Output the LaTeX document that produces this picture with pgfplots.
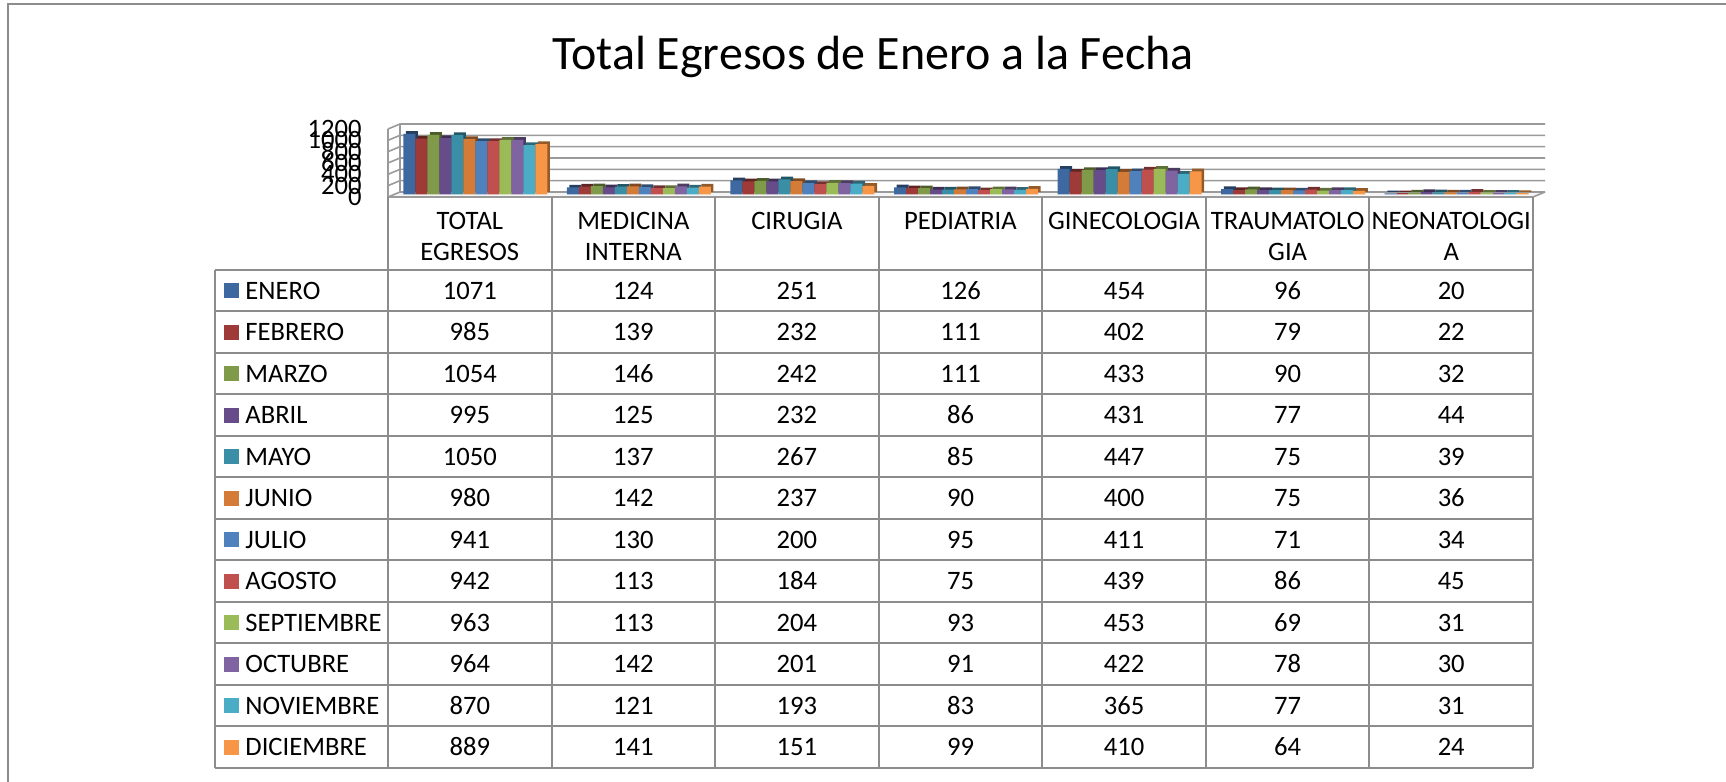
\documentclass[border=0pt]{standalone}
\usepackage{fontspec}
\setmainfont{Carlito}
\usepackage{pgfplots}
\usepackage{pgfplotstable}
\pgfplotsset{compat=1.18}

\definecolor{c1}{HTML}{3D69A0}
\definecolor{c2}{HTML}{9E3B38}
\definecolor{c3}{HTML}{7F9A48}
\definecolor{c4}{HTML}{674C8A}
\definecolor{c5}{HTML}{3A8FA6}
\definecolor{c6}{HTML}{D47B38}
\definecolor{c7}{HTML}{4F81BD}
\definecolor{c8}{HTML}{C0504D}
\definecolor{c9}{HTML}{9BBB59}
\definecolor{c10}{HTML}{8064A2}
\definecolor{c11}{HTML}{4BACC6}
\definecolor{c12}{HTML}{F79646}
\definecolor{tablegray}{HTML}{8C8C8C}
\definecolor{gridgray}{HTML}{9A9A9A}

% one row per category (table column), one column per month (table row)
\pgfplotstableread{
x m1 m2 m3 m4 m5 m6 m7 m8 m9 m10 m11 m12
0 1071 985 1054 995 1050 980 941 942 963 964 870 889
1 124 139 146 125 137 142 130 113 113 142 121 141
2 251 232 242 232 267 237 200 184 204 201 193 151
3 126 111 111 86 85 90 95 75 93 91 83 99
4 454 402 433 431 447 400 411 439 453 422 365 410
5 96 79 90 77 75 75 71 86 69 78 77 64
6 20 22 32 44 39 36 34 45 31 30 31 24
}\datatable

\newcommand\bodyfont{\fontsize{13.3}{15}\selectfont}

\begin{document}
\begin{tikzpicture}
% page frame and title (pixel units, y downwards)
\begin{scope}[x=0.5pt,y=-0.5pt,shift={(0pt,391pt)}]
  \path[use as bounding box] (0,0) rectangle (1726,782);
  \draw[tablegray, line width=1pt] (8,782) -- (8,4) -- (1726,4);
  \node[anchor=base, inner sep=0pt, font=\fontsize{24}{28}\selectfont] at (873,70) {Total Egresos de Enero a la Fecha};
\end{scope}

\begin{axis}[
  at={(194pt,292.5pt)}, anchor=south west,
  scale only axis, width=572.5pt, height=34pt,
  xmin=-0.5, xmax=6.5, ymin=0, ymax=1200,
  clip=false,
  axis line style={draw=none}, tick style={draw=none},
  xtick=\empty, ytick={0,200,...,1200},
  yticklabel style={font=\bodyfont, inner sep=0pt, xshift=-13pt},
  /pgf/number format/assume math mode=true,
  /pgf/number format/1000 sep={},
]
  % floor
  \fill[gray!8] (axis cs:-0.5,0) -- (axis cs:6.5,0) -- ([xshift=6pt,yshift=2.5pt]axis cs:6.5,0) -- ([xshift=6pt,yshift=2.5pt]axis cs:-0.5,0) -- cycle;
  \draw[gridgray, line width=0.8pt] (axis cs:-0.5,0) -- (axis cs:6.5,0) -- ([xshift=6pt,yshift=2.5pt]axis cs:6.5,0);
  % back wall gridlines and side wall
  \pgfplotsinvokeforeach{0,200,...,1200}{
    \draw[gridgray, line width=0.8pt] (axis cs:-0.5,#1) -- ([xshift=6pt,yshift=2.5pt]axis cs:-0.5,#1) -- ([xshift=6pt,yshift=2.5pt]axis cs:6.5,#1);
  }
  \draw[gridgray, line width=0.8pt] (axis cs:-0.5,0) -- (axis cs:-0.5,1200);
  \draw[gridgray, line width=0.8pt] ([xshift=6pt,yshift=2.5pt]axis cs:-0.5,0) -- ([xshift=6pt,yshift=2.5pt]axis cs:-0.5,1200);
  % 3D shading of bars (side and top faces)
  \pgfplotsinvokeforeach{1,...,12}{
    \addplot[ybar, bar width=6pt, bar shift={(#1-6.5)*6pt+2.75pt+1.3pt}, yshift=2.6pt, fill=c#1!60!black, draw=none]
      table[x=x, y=m#1] {\datatable};
  }
  % front faces
  \pgfplotsinvokeforeach{1,...,12}{
    \addplot[ybar, bar width=6pt, bar shift={(#1-6.5)*6pt+2.75pt}, yshift=1.25pt, fill=c#1, draw=none]
      table[x=x, y=m#1] {\datatable};
  }
\end{axis}

% data table (pixel units, y downwards)
\begin{scope}[x=0.5pt,y=-0.5pt,shift={(0pt,391pt)}, font=\bodyfont]
  \foreach \j in {0,...,7} {
    \draw[tablegray, line width=1pt] (388+163.57*\j,197) -- (388+163.57*\j,768);
  }
  \draw[tablegray, line width=1pt] (215,270) -- (215,768);
  \foreach \k in {0,...,12} {
    \draw[tablegray, line width=1pt] (215,270+41.5*\k) -- (1533,270+41.5*\k);
  }
  % headers
  \node[anchor=base, inner sep=0pt] at (469.8+163.57*0,230) {TOTAL};
  \node[anchor=base, inner sep=0pt] at (469.8+163.57*0,261) {EGRESOS};
  \node[anchor=base, inner sep=0pt] at (469.8+163.57*1,230) {MEDICINA};
  \node[anchor=base, inner sep=0pt] at (469.8+163.57*1,261) {INTERNA};
  \node[anchor=base, inner sep=0pt] at (469.8+163.57*2,230) {CIRUGIA};
  \node[anchor=base, inner sep=0pt] at (469.8+163.57*3,230) {PEDIATRIA};
  \node[anchor=base, inner sep=0pt] at (469.8+163.57*4,230) {GINECOLOGIA};
  \node[anchor=base, inner sep=0pt] at (469.8+163.57*5,230) {TRAUMATOLO};
  \node[anchor=base, inner sep=0pt] at (469.8+163.57*5,261) {GIA};
  \node[anchor=base, inner sep=0pt] at (469.8+163.57*6,230) {NEONATOLOGI};
  \node[anchor=base, inner sep=0pt] at (469.8+163.57*6,261) {A};
  % rows
  \foreach \name [count=\k] in {ENERO,FEBRERO,MARZO,ABRIL,MAYO,JUNIO,JULIO,AGOSTO,SEPTIEMBRE,OCTUBRE,NOVIEMBRE,DICIEMBRE} {
    \fill[c\k] (224,270+41.5*\k-20.75-7.5) rectangle (239,270+41.5*\k-20.75+7.5);
    \node[anchor=base west, inner sep=0pt] at (245,257.65+41.5*\k) {\name};
    \foreach \r in {0,...,6} {
      \pgfplotstablegetelem{\r}{m\k}\of\datatable
      \node[anchor=base, inner sep=0pt] at (469.8+163.57*\r,257.65+41.5*\k) {\pgfplotsretval};
    }
  }
\end{scope}
\end{tikzpicture}
\end{document}
